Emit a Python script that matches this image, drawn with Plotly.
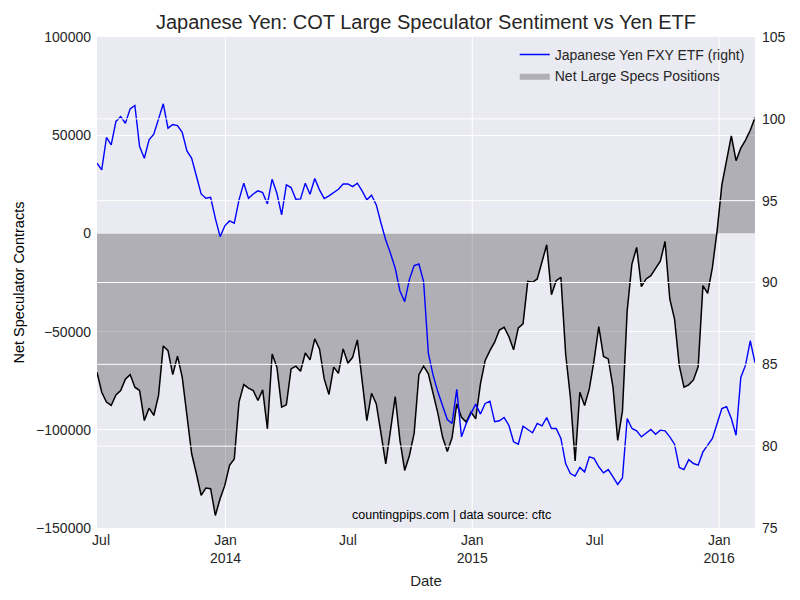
import pandas as pd
import plotly.graph_objects as go

# weekly COT report dates (Tuesdays)
dates = pd.date_range("2013-06-25", periods=140, freq="7D")

# Japanese Yen FXY ETF close (right axis)
fxy = [97.29, 96.88, 98.86, 98.41, 99.84, 100.14, 99.73, 100.61, 100.82, 98.31,
       97.59, 98.72, 99.06, 99.98, 100.92, 99.43, 99.65, 99.59, 99.18, 98.04,
       97.59, 96.51, 95.41, 95.15, 95.21, 93.92, 92.80, 93.46, 93.76, 93.62,
       95.05, 96.07, 95.15, 95.41, 95.60, 95.49, 94.80, 96.31, 95.45, 94.13,
       95.96, 95.80, 95.09, 95.11, 96.07, 95.39, 96.35, 95.66, 95.13, 95.29,
       95.49, 95.70, 96.02, 96.02, 95.86, 96.07, 95.60, 95.05, 95.33, 94.74,
       93.62, 92.60, 91.78, 90.87, 89.48, 88.83, 90.19, 91.03, 91.13, 90.05,
       85.67, 84.34, 83.32, 82.51, 81.63, 81.39, 83.47, 80.57, 81.39, 82.00,
       82.57, 81.96, 82.61, 82.75, 81.49, 81.55, 81.75, 81.28, 80.27, 80.12,
       81.22, 81.02, 80.82, 81.39, 81.24, 81.75, 81.08, 81.08, 80.47, 78.94,
       78.33, 78.17, 78.70, 78.43, 79.35, 79.25, 78.74, 78.37, 78.57, 78.12,
       77.66, 78.06, 81.69, 81.08, 80.94, 80.57, 80.82, 81.02, 80.73, 80.98,
       80.94, 80.57, 80.12, 78.70, 78.57, 79.18, 78.94, 78.84, 79.65, 80.06,
       80.47, 81.39, 82.30, 82.41, 81.69, 80.67, 84.20, 84.95, 86.44, 85.10]

# Net large speculator positions (left axis)
net_specs = [-70700, -80900, -85900, -87600, -82200, -80000, -74200, -71900, -78300, -80000,
             -95300, -89000, -92700, -82500, -57300, -59700, -71900, -62500, -73200, -92700,
             -112200, -122400, -133400, -129700, -130000, -143600, -135100, -128300, -118100, -114800,
             -85900, -77000, -78800, -80000, -85100, -79700, -99500, -61400, -68100, -88500,
             -87300, -69000, -67600, -70200, -60900, -64400, -53700, -58800, -74100, -82000,
             -68100, -71200, -58800, -66100, -63100, -54200, -74500, -95300, -81400, -86800,
             -102000, -117300, -100300, -83100, -105400, -120700, -113100, -101700, -71900, -67600,
             -71500, -81700, -91500, -103700, -111000, -104100, -86800, -93600, -96100, -91000,
             -94400, -76600, -64700, -59700, -55400, -49200, -47800, -52500, -59300, -48100,
             -46100, -24400, -24900, -23200, -14700, -5800, -31200, -24100, -22400, -61400,
             -83400, -115900, -80900, -87600, -79200, -64700, -47500, -62700, -63900, -78300,
             -105400, -90500, -39300, -15600, -7100, -27100, -23200, -21500, -17800, -14200,
             -4100, -33400, -43600, -67300, -78300, -77100, -74600, -67800, -26600, -30500,
             -17300, 1400, 24700, 37000, 49700, 37000, 43400, 47500, 52500, 59000]

x_tick_dates = ["2013-07-01", "2014-01-01", "2014-07-01", "2015-01-01", "2015-07-01", "2016-01-01"]
x_tick_text = ["Jul", "Jan<br>2014", "Jul", "Jan<br>2015", "Jul", "Jan<br>2016"]
x_major_dates = ["2014-01-01", "2015-01-01", "2016-01-01"]
left_ticks = [-150000, -100000, -50000, 0, 50000, 100000]
left_tick_text = ["\u2212150000", "\u2212100000", "\u221250000", "0", "50000", "100000"]
right_ticks = [75, 80, 85, 90, 95, 100, 105]

FONT = "Liberation Sans, Arial, Helvetica, sans-serif"
TXT = "#262626"

fig = go.Figure()

fig.add_trace(go.Scatter(
    x=dates, y=net_specs, mode="lines", fill="tozeroy",
    fillcolor="rgba(0,0,0,0.25)", line=dict(width=0, color="rgba(0,0,0,0)"),
    name="Net Large Specs Positions", legendrank=2, hoverinfo="skip",
))
fig.add_trace(go.Scatter(
    x=dates, y=net_specs, mode="lines", line=dict(color="black", width=1.5),
    showlegend=False, name="Net Large Specs",
))
fig.add_trace(go.Scatter(
    x=dates, y=fxy, mode="lines", line=dict(color="#0000ff", width=1.4),
    name="Japanese Yen FXY ETF (right)", yaxis="y2", legendrank=1,
))

shapes = []
for d in x_major_dates:
    shapes.append(dict(type="line", xref="x", yref="paper", x0=d, x1=d, y0=0, y1=1,
                       line=dict(color="white", width=1), layer="below"))
for v in right_ticks[1:-1]:
    shapes.append(dict(type="line", xref="paper", yref="y2", x0=0, x1=1, y0=v, y1=v,
                       line=dict(color="white", width=1), layer="above"))

fig.update_layout(
    width=792, height=592,
    margin=dict(l=89, r=45, t=29, b=72, autoexpand=False),
    paper_bgcolor="white", plot_bgcolor="#EAEAF2",
    font=dict(family=FONT, color=TXT, size=14),
    title=dict(text="Japanese Yen: COT Large Speculator Sentiment vs Yen ETF",
               x=0.5, xref="paper", xanchor="center", y=1 - 14 / 592, yanchor="middle",
               font=dict(size=20, color=TXT, family=FONT)),
    xaxis=dict(range=[dates[0], dates[-1]], tickvals=x_tick_dates, ticktext=x_tick_text,
               showgrid=False, zeroline=False, showline=False, ticks="",
               title=dict(text="Date", font=dict(size=15), standoff=10),
               tickfont=dict(size=14), ticklabelstandoff=2, automargin=False),
    yaxis=dict(range=[-150000, 100000], tickvals=left_ticks, ticktext=left_tick_text,
               showgrid=True, gridcolor="white", gridwidth=1, zeroline=False,
               showline=False, ticks="",
               tickfont=dict(size=14), ticklabelstandoff=5, automargin=False),
    yaxis2=dict(range=[75, 105], tickvals=right_ticks, overlaying="y", side="right",
                showgrid=False, zeroline=False, showline=False, ticks="",
                tickfont=dict(size=14), ticklabelstandoff=6, automargin=False),
    legend=dict(x=0.992, xanchor="right", y=0.996, yanchor="top",
                bgcolor="rgba(0,0,0,0)", font=dict(size=14), traceorder="normal"),
    shapes=shapes,
    annotations=[
        dict(text="countingpips.com | data source: cftc", xref="paper", yref="paper",
             x=0.538, y=0.026, xanchor="center", yanchor="middle",
             showarrow=False, font=dict(size=12.5, color="black")),
        dict(text="Net Speculator Contracts", xref="paper", yref="paper",
             x=-0.12, y=0.5, xanchor="center", yanchor="middle", textangle=-90,
             showarrow=False, font=dict(size=14.5, color="black")),
    ],
)

fig.write_html("out.html")
